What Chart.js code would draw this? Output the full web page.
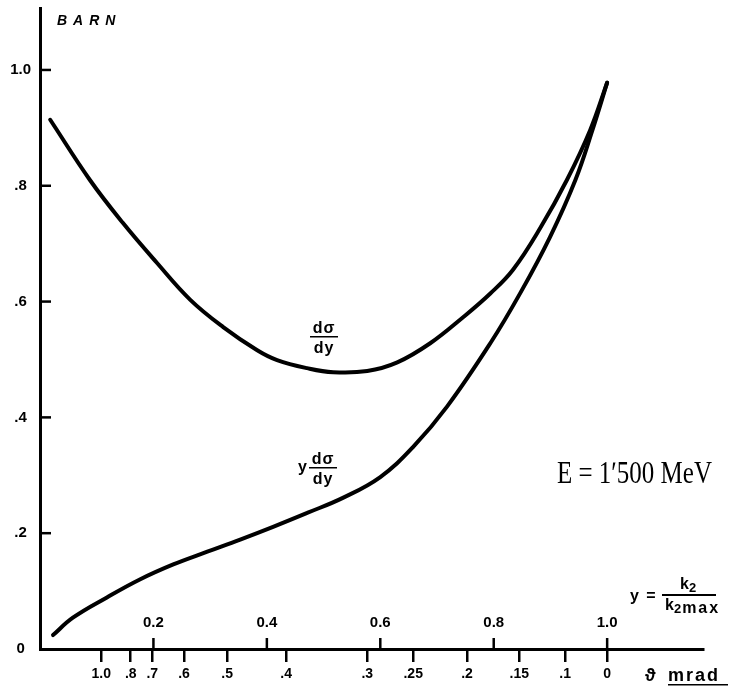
<!DOCTYPE html>
<html>
<head>
<meta charset="utf-8">
<script src="https://cdn.jsdelivr.net/npm/chart.js@4.4.0/dist/chart.umd.min.js"></script>
<style>
  html, body { margin: 0; padding: 0; background: #fff; }
  #wrap { width: 731px; height: 695px; }
</style>
</head>
<body>
<div id="wrap"><canvas id="chart" width="731" height="695"></canvas></div>
<script>
// y = k2 / k2max (x axis) and cross sections in barn
const sigmaX = [0.018, 0.088, 0.146, 0.206, 0.265, 0.323, 0.383, 0.418, 0.471, 0.517, 0.577, 0.630, 0.688, 0.746, 0.794, 0.834, 0.882, 0.929, 0.970, 1.0];
const sigmaY = [0.914, 0.810, 0.736, 0.667, 0.603, 0.556, 0.516, 0.499, 0.485, 0.478, 0.480, 0.495, 0.528, 0.573, 0.614, 0.655, 0.727, 0.810, 0.896, 0.978];

const ySigmaX = [0.023, 0.058, 0.118, 0.176, 0.235, 0.295, 0.353, 0.411, 0.471, 0.534, 0.600, 0.658, 0.718, 0.794, 0.847, 0.899, 0.944, 0.974, 1.0];
const ySigmaY = [0.024, 0.054, 0.089, 0.120, 0.146, 0.168, 0.189, 0.211, 0.235, 0.261, 0.297, 0.349, 0.419, 0.528, 0.615, 0.711, 0.810, 0.896, 0.978];

// axis ticks
const yTicks = [0, 0.2, 0.4, 0.6, 0.8, 1.0];
const yTickLabels = ["0", ".2", ".4", ".6", ".8", "1.0"];
const fracTicks = [0.2, 0.4, 0.6, 0.8, 1.0];
const fracTickLabels = ["0.2", "0.4", "0.6", "0.8", "1.0"];
// theta (mrad) marks placed on the y scale
const thetaPos = [0.108, 0.160, 0.198, 0.254, 0.330, 0.434, 0.577, 0.658, 0.753, 0.845, 0.926, 1.0];
const thetaLabels = ["1.0", ".8", ".7", ".6", ".5", ".4", ".3", ".25", ".2", ".15", ".1", "0"];

const FONT = '"Liberation Sans", Arial, sans-serif';

function toPoints(xs, ys) {
  return xs.map((x, i) => ({ x: x, y: ys[i] }));
}

function fraction(ctx, cx, barY, num, den, w) {
  ctx.textAlign = "center";
  ctx.textBaseline = "alphabetic";
  ctx.letterSpacing = "1px";
  ctx.fillText(num, cx, barY - 4);
  ctx.fillText(den, cx, barY + 16);
  ctx.letterSpacing = "0px";
  ctx.fillRect(cx - w / 2, barY - 1, w, 1.5);
}

// "k" with subscript "2" and optional trailing text, left aligned
function kSub(ctx, x, y, tail) {
  ctx.textAlign = "left";
  ctx.font = "bold 16px " + FONT;
  ctx.fillText("k", x, y);
  x += ctx.measureText("k").width;
  ctx.font = "bold 13px " + FONT;
  ctx.fillText("2", x, y + 3);
  x += ctx.measureText("2").width + 1;
  if (tail) {
    ctx.font = "bold 16px " + FONT;
    ctx.letterSpacing = "2px";
    ctx.fillText(tail, x, y + 3);
    ctx.letterSpacing = "0px";
  }
}

// inward tick marks, upper y-fraction scale and text labels
const annotations = {
  id: "annotations",
  afterDraw(chart) {
    const ctx = chart.ctx;
    const xs = chart.scales.x;
    const ys = chart.scales.y;
    const area = chart.chartArea;
    ctx.save();
    ctx.fillStyle = "#000";
    ctx.strokeStyle = "#000";

    // y ticks pointing inwards
    ctx.lineWidth = 2.5;
    yTicks.slice(1).forEach(v => {
      const py = ys.getPixelForValue(v);
      ctx.beginPath();
      ctx.moveTo(area.left, py);
      ctx.lineTo(area.left + 11, py);
      ctx.stroke();
    });

    // k2/k2max ticks above the axis line
    ctx.font = "bold 15px " + FONT;
    ctx.textAlign = "center";
    ctx.textBaseline = "middle";
    fracTicks.forEach((v, i) => {
      const px = xs.getPixelForValue(v);
      ctx.beginPath();
      ctx.moveTo(px, area.bottom);
      ctx.lineTo(px, area.bottom - 11);
      ctx.stroke();
      ctx.fillText(fracTickLabels[i], px, area.bottom - 26);
    });

    ctx.textBaseline = "alphabetic";

    // BARN
    ctx.font = "italic bold 14px " + FONT;
    ctx.textAlign = "left";
    ctx.letterSpacing = "6px";
    ctx.fillText("BARN", 57, 25);
    ctx.letterSpacing = "0px";

    // theta mrad
    ctx.font = "bold 18px " + FONT;
    ctx.fillText("\u03D1", 645, 681);
    ctx.letterSpacing = "2px";
    ctx.fillText("mrad", 668, 681);
    ctx.letterSpacing = "0px";
    ctx.fillRect(668, 684, 60, 1.5);

    // y = k2 / k2max
    ctx.font = "bold 16px " + FONT;
    ctx.letterSpacing = "1.5px";
    ctx.fillText("y =", 630, 601);
    ctx.letterSpacing = "0px";
    kSub(ctx, 680, 589, "");
    kSub(ctx, 665, 610, "max");
    ctx.fillRect(662, 594, 54, 2);

    // curve labels
    ctx.font = "bold 16px " + FONT;
    fraction(ctx, 324, 337, "d\u03C3", "dy", 28);
    fraction(ctx, 323, 468, "d\u03C3", "dy", 28);
    ctx.textAlign = "right";
    ctx.fillText("y", 307, 472);

    // energy
    ctx.font = "25px \"Liberation Serif\", \"Times New Roman\", serif";
    ctx.textAlign = "left";
    ctx.save();
    ctx.translate(557, 483);
    ctx.scale(1.0, 1.3);
    ctx.fillText("E = 1\u02B9500 MeV", 0, 0);
    ctx.restore();

    ctx.restore();
  }
};

const lineStyle = {
  borderColor: "#000",
  borderWidth: 4,
  borderCapStyle: "round",
  borderJoinStyle: "round",
  pointRadius: 0,
  fill: false,
  tension: 0.4
};

new Chart(document.getElementById("chart"), {
  type: "line",
  data: {
    datasets: [
      Object.assign({ label: "dσ/dy", data: toPoints(sigmaX, sigmaY) }, lineStyle),
      Object.assign({ label: "y dσ/dy", data: toPoints(ySigmaX, ySigmaY) }, lineStyle)
    ]
  },
  options: {
    responsive: false,
    animation: false,
    layout: { padding: { top: 8, right: 28, left: 0, bottom: 0 } },
    plugins: { legend: { display: false }, tooltip: { enabled: false } },
    scales: {
      x: {
        type: "linear",
        min: 0,
        max: 1.169,
        afterBuildTicks: s => { s.ticks = thetaPos.map(v => ({ value: v })); },
        afterFit: s => { s.height = 46; s.paddingLeft = 0; s.paddingRight = 0; },
        ticks: {
          autoSkip: false,
          maxRotation: 0,
          padding: 4,
          color: "#000",
          font: { family: FONT, size: 14, weight: "bold" },
          callback: (v, i) => thetaLabels[i]
        },
        grid: { drawOnChartArea: false, drawTicks: true, tickLength: 13, color: "#000", lineWidth: 2.5 },
        border: { display: true, color: "#000", width: 3 }
      },
      y: {
        min: 0,
        max: 1.107,
        afterBuildTicks: s => { s.ticks = yTicks.map(v => ({ value: v })); },
        afterFit: s => { s.width = 40; s.paddingTop = 0; s.paddingBottom = 0; },
        ticks: {
          padding: 9,
          crossAlign: "center",
          color: "#000",
          font: { family: FONT, size: 15, weight: "bold" },
          callback: (v, i) => yTickLabels[i]
        },
        grid: { drawOnChartArea: false, drawTicks: false },
        border: { display: true, color: "#000", width: 3 }
      }
    }
  },
  plugins: [annotations]
});
</script>
</body>
</html>
